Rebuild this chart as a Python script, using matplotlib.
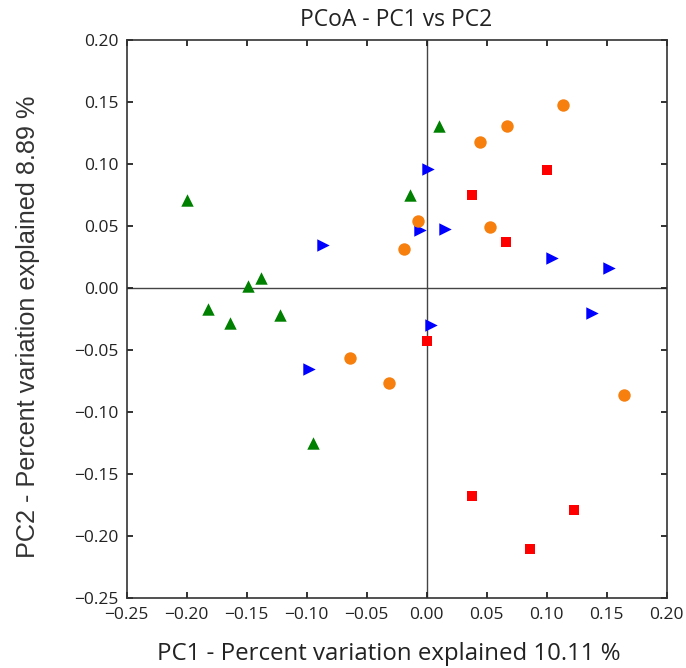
import matplotlib
matplotlib.use('Agg')
import matplotlib.pyplot as plt

# PCoA coordinates per group (PC1, PC2)
green_pc1 = [-0.200, -0.149, -0.138, -0.182, -0.164, -0.122, -0.0945, 0.0105, -0.0137]
green_pc2 = [0.0708, 0.0014, 0.0084, -0.017, -0.028, -0.0215, -0.125, 0.131, 0.0754]

blue_pc1 = [-0.0867, -0.098, 0.001, -0.006, 0.015, 0.104, 0.152, 0.138, 0.0033]
blue_pc2 = [0.035, -0.0654, 0.096, 0.047, 0.0474, 0.024, 0.0162, -0.0199, -0.0293]

orange_pc1 = [0.1139, 0.0669, 0.0444, -0.0072, -0.0186, 0.0525, -0.0639, -0.0317, 0.1644]
orange_pc2 = [0.1478, 0.1304, 0.118, 0.0541, 0.0318, 0.049, -0.056, -0.0762, -0.0859]

red_pc1 = [0.1003, 0.0375, 0.0664, 0.0, 0.0375, 0.1228, 0.0858]
red_pc2 = [0.0951, 0.0751, 0.0375, -0.0425, -0.1672, -0.179, -0.2103]

ticks = [-0.25, -0.20, -0.15, -0.10, -0.05, 0.00, 0.05, 0.10, 0.15, 0.20]

plt.rcParams['font.family'] = ['Open Sans', 'DejaVu Sans']

fig = plt.figure(figsize=(6.86, 6.68), dpi=100)
ax = fig.add_axes([0.1847, 0.1043, 0.7872, 0.8358])

ax.axhline(0, color='#444444', lw=1, zorder=1)
ax.axvline(0, color='#444444', lw=1, zorder=1)

ax.scatter(green_pc1, green_pc2, marker='^', s=80, color='green', lw=0, zorder=3)
ax.scatter(blue_pc1, blue_pc2, marker='>', s=80, color='blue', lw=0, zorder=3)
ax.scatter(orange_pc1, orange_pc2, marker='o', s=80, color='#f77f0e', lw=0, zorder=3)
ax.scatter(red_pc1, red_pc2, marker='s', s=55, color='red', lw=0, zorder=3)

ax.set_xlim(-0.25, 0.20)
ax.set_ylim(-0.25, 0.20)
ax.set_xticks(ticks)
ax.set_yticks(ticks)
ax.set_xticklabels([f'{t:.2f}'.replace('-', '\u2212') for t in ticks])
ax.set_yticklabels([f'{t:.2f}'.replace('-', '\u2212') for t in ticks])
ax.tick_params(direction='in', length=4, width=1.3, top=True, right=True,
               labelsize=12.5, colors='#222222', pad=6)
for sp in ax.spines.values():
    sp.set_color('#333333')
    sp.set_linewidth(1.2)

fig.text(396 / 686, 1 - 20 / 668, 'PCoA - PC1 vs PC2', ha='center', va='center',
         fontsize=16.5, color='#222222')
fig.text(389 / 686, 1 - 654 / 668, 'PC1 - Percent variation explained 10.11 %',
         ha='center', va='center', fontsize=17.3, color='#222222')
fig.text(28 / 686, 1 - 327 / 668, 'PC2 - Percent variation explained 8.89 %',
         ha='center', va='center', rotation=90, fontsize=18.2,
         family=['Liberation Sans', 'DejaVu Sans'], color='#333333')

fig.savefig('out.png', dpi=100)
